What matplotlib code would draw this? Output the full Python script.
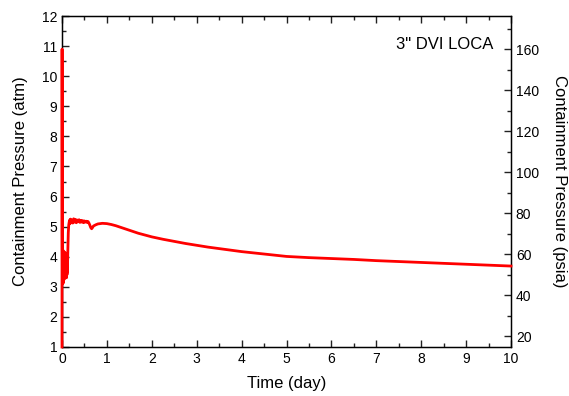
import matplotlib
matplotlib.use("Agg")
import matplotlib.pyplot as plt
from matplotlib.ticker import MultipleLocator

plt.rcParams['font.family'] = ['Liberation Sans', 'DejaVu Sans']

# Time (day) and containment pressure (atm)
time_day = [0.0, 0.002, 0.006, 0.010, 0.014, 0.018, 0.022, 0.026, 0.030, 0.034,
            0.038, 0.042, 0.046, 0.050, 0.055, 0.060, 0.065, 0.070, 0.075, 0.080,
            0.085, 0.090, 0.095, 0.100, 0.105, 0.110, 0.120, 0.130, 0.140, 0.150,
            0.160, 0.170, 0.180, 0.190, 0.200, 0.220, 0.240, 0.260, 0.280, 0.300,
            0.320, 0.340, 0.360, 0.380, 0.400, 0.420, 0.440, 0.460, 0.480, 0.500,
            0.520, 0.540, 0.560, 0.580, 0.600, 0.620, 0.640, 0.660, 0.680, 0.700,
            0.750, 0.800, 0.850, 0.900, 1.000, 1.100, 1.200, 1.300, 1.400, 1.500,
            1.600, 1.700, 1.800, 1.900, 2.000, 2.250, 2.500, 2.750, 3.000, 3.250,
            3.500, 3.750, 4.000, 4.250, 4.500, 4.750, 5.000, 5.500, 6.000, 6.500,
            7.000, 7.500, 8.000, 8.500, 9.000, 9.500, 10.000]
pressure_atm = [1.00, 10.90, 4.80, 3.20, 4.10, 3.10, 3.90, 3.30, 4.20, 3.15,
                3.80, 3.40, 4.10, 3.25, 3.95, 3.30, 4.15, 3.45, 4.00, 3.30,
                4.10, 3.35, 4.05, 3.30, 4.10, 3.40, 3.50, 4.20, 4.80, 5.05,
                5.15, 5.22, 5.10, 5.25, 5.15, 5.22, 5.12, 5.26, 5.15, 5.24,
                5.13, 5.22, 5.16, 5.23, 5.14, 5.21, 5.15, 5.20, 5.13, 5.19,
                5.15, 5.18, 5.14, 5.17, 5.12, 5.05, 4.97, 4.93, 4.97, 5.02,
                5.06, 5.09, 5.10, 5.11, 5.10, 5.07, 5.03, 4.98, 4.93, 4.88,
                4.83, 4.78, 4.74, 4.70, 4.66, 4.58, 4.51, 4.44, 4.38, 4.32,
                4.27, 4.22, 4.17, 4.13, 4.09, 4.05, 4.01, 3.97, 3.94, 3.91,
                3.87, 3.84, 3.81, 3.78, 3.75, 3.72, 3.69]

ATM_TO_PSIA = 14.696

fig = plt.figure(figsize=(5.69, 3.96), dpi=100)
ax = fig.add_axes([62/569, 1-347/396, 449/569, 331/396])

ax2 = ax.twinx()
ax.set_zorder(ax2.get_zorder() + 1)
ax.patch.set_visible(False)

ax.plot(time_day, pressure_atm, color='#ff0000', lw=2.0, zorder=3, clip_on=False)

ax.set_xlim(0, 10)
ax.set_ylim(1, 12)
ax.xaxis.set_major_locator(MultipleLocator(1))
ax.xaxis.set_minor_locator(MultipleLocator(0.5))
ax.yaxis.set_major_locator(MultipleLocator(1))
ax.yaxis.set_minor_locator(MultipleLocator(0.5))
ax.tick_params(which='both', direction='in', top=True, right=False, labelsize=10, width=1, color='#222222')
ax.tick_params(which='major', length=5)
ax.tick_params(which='minor', length=3)
ax.set_xlabel('Time (day)', fontsize=12, labelpad=7)
ax.set_ylabel('Containment Pressure (atm)', fontsize=12, labelpad=10)
for s in ax.spines.values():
    s.set_linewidth(1.0)

ax2.set_ylim(1*ATM_TO_PSIA, 12*ATM_TO_PSIA)
ax2.yaxis.set_major_locator(MultipleLocator(20))
ax2.yaxis.set_minor_locator(MultipleLocator(10))
ax2.tick_params(which='both', direction='in', labelsize=10, width=1, color='#222222')
ax2.tick_params(which='major', length=5)
ax2.tick_params(which='minor', length=3)
ax2.set_ylabel('Containment Pressure (psia)', fontsize=12, rotation=270, labelpad=20)

ax.text(0.96, 0.915, '3" DVI LOCA', transform=ax.transAxes, ha='right', va='center', fontsize=12)

fig.savefig('out.png', dpi=100)
